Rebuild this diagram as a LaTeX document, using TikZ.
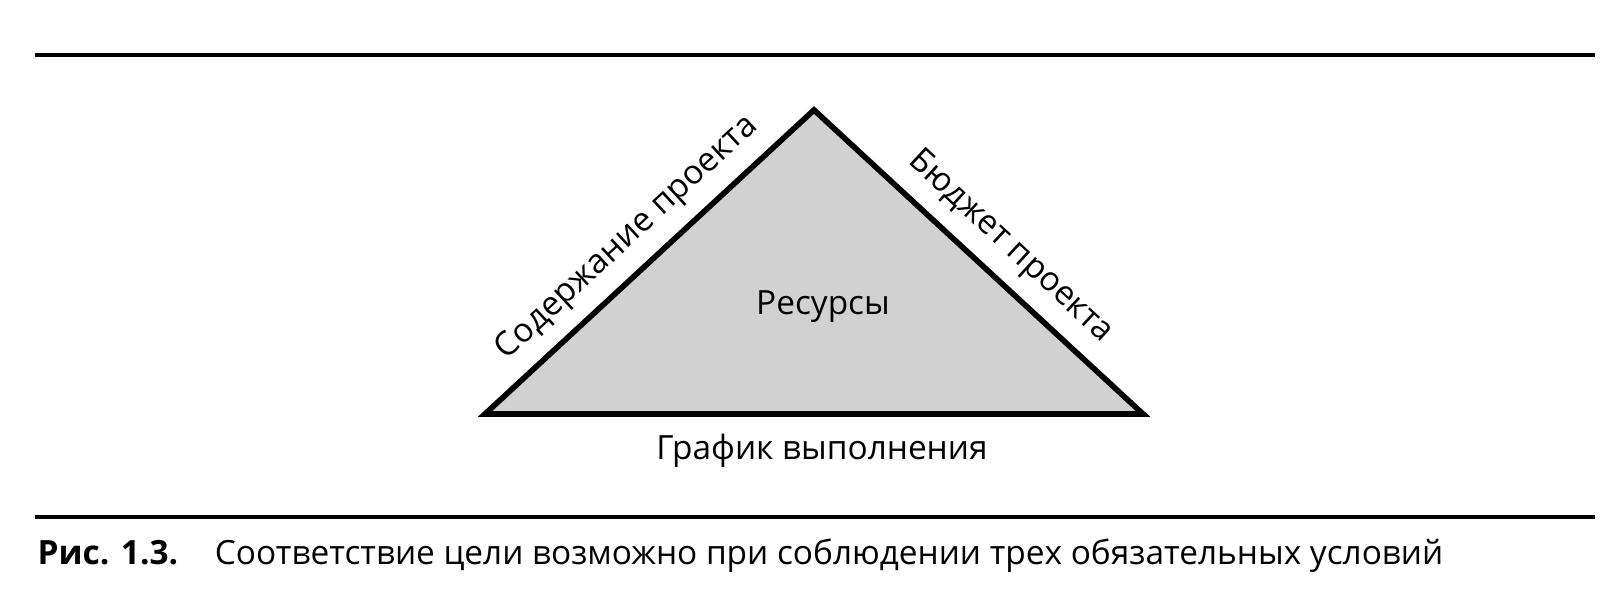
\documentclass[tikz,border=0pt]{standalone}
\usepackage{fontspec}
\setmainfont{Open Sans}
\begin{document}
\begin{tikzpicture}[side/.style={sloped, above=4.5pt, inner sep=0pt},
                    lbl/.style={inner sep=0pt, anchor=base}]
    \useasboundingbox (0,0) rectangle (16.14,6.01);

    % rules round the figure
    \coordinate (rule1a) at (0.35,5.46);
    \coordinate (rule1b) at (15.95,5.46);
    \coordinate (rule2a) at (0.35,0.84);
    \coordinate (rule2b) at (15.95,0.84);
    \draw [line width=1.2pt] (rule1a) -- (rule1b);
    \draw [line width=1.2pt] (rule2a) -- (rule2b);

    \begin{scope}
      \coordinate (apex) at (8.14,4.91);
      \coordinate (left) at (4.85,1.87);
      \coordinate (right) at (11.43,1.87);
      \draw [line width=1.6pt, line join=miter, fill=black!18] (left) -- (apex) -- (right) -- cycle;
    \end{scope}

    \begin{scope}[font=\fontsize{9.5}{11}\selectfont]
      \path (left) -- (apex) node [side, pos=0.5] {Содержание проекта};
      \path (apex) -- (right) node [side, pos=0.53] {Бюджет проекта};
      \node [lbl] (res) at (8.23,2.86) {Ресурсы};
      \node [lbl] (sched) at (8.22,1.41) {График выполнения};
    \end{scope}

    \node [lbl, anchor=base west, font=\fontsize{9.5}{11}\selectfont] (cap) at (0.37,0.36)
      {\textbf{Рис. 1.3.}\hspace{1.1em}Соответствие цели возможно при соблюдении трех обязательных условий};
\end{tikzpicture}
\end{document}
